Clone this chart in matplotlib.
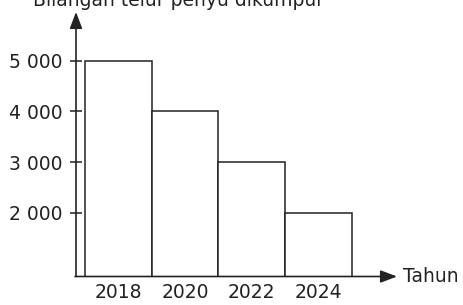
import matplotlib
matplotlib.use("Agg")
import matplotlib.pyplot as plt

years = ["2018", "2020", "2022", "2024"]
counts = [5000, 4000, 3000, 2000]
yticks = [2000, 3000, 4000, 5000]
ytick_labels = ["2 000", "3 000", "4 000", "5 000"]
title = "Bilangan telur penyu dikumpul"
xlabel = "Tahun"

W, H = 464, 305
fig = plt.figure(figsize=(W / 100, H / 100), dpi=100)
plt.rcParams["font.family"] = "DejaVu Sans"

# axes box: left edge = y axis line, bottom = x axis line, top/right = arrow tips
x0, x1 = 76, 397
y_axis, y_top = 276.5, 12
ax = fig.add_axes([x0 / W, (H - y_axis) / H, (x1 - x0) / W, (y_axis - y_top) / H])

ink = "#222222"
pos = list(range(len(years)))
ax.bar(pos, counts, width=1.0, color="white", edgecolor=ink, linewidth=1.1)

unit = 66.75  # px per bar
left = -0.5 - (85 - x0) / unit
ax.set_xlim(left, left + (x1 - x0) / unit)
ppk = 50.67  # px per 1000
ax.set_ylim(2000 - (y_axis - 212.7) / ppk * 1000, 5000 + (60.7 - y_top) / ppk * 1000)

for s in ax.spines.values():
    s.set_visible(False)
arrow = dict(arrowstyle="-|>,head_length=1.0,head_width=0.38", color=ink, lw=1.2,
             shrinkA=0, shrinkB=0)
ax.annotate("", xy=(0, 1), xytext=(0, 0), xycoords="axes fraction", arrowprops=arrow)
ax.annotate("", xy=(1, 0), xytext=(-0.003, 0), xycoords="axes fraction", arrowprops=arrow)

ax.set_yticks(yticks)
ax.set_yticklabels(ytick_labels, fontsize=13.5, color=ink)
ax.tick_params(axis="y", direction="inout", length=8.6, width=1.1, color=ink, pad=5.5)
ax.set_xticks(pos)
ax.set_xticklabels(years, fontsize=13.5, color=ink)
ax.tick_params(axis="x", length=0, pad=5)

ax.annotate(xlabel, xy=(1, 0), xycoords="axes fraction", xytext=(4.5, 0),
            textcoords="offset points", ha="left", va="center", fontsize=13.5, color=ink)
fig.text(33 / W, (H - 6) / H, title, ha="left", va="baseline", fontsize=13.5, color=ink)

fig.savefig("out.png", dpi=100)
